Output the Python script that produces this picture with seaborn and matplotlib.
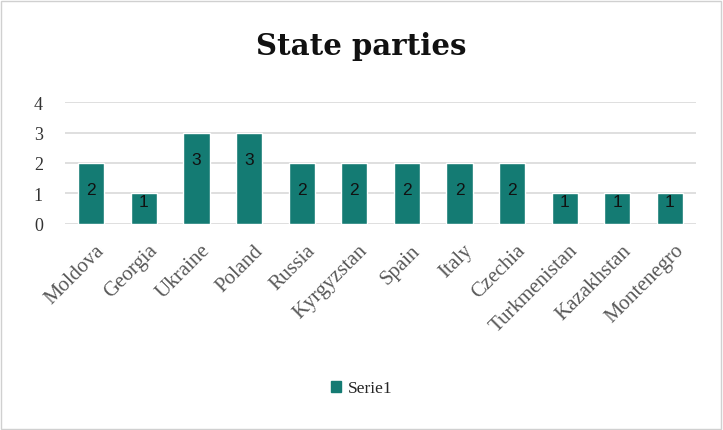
import matplotlib
matplotlib.use("Agg")
import matplotlib.pyplot as plt
import matplotlib.transforms as mtransforms
import seaborn as sns
import pandas as pd
from matplotlib.patches import Rectangle

countries = ["Moldova", "Georgia", "Ukraine", "Poland", "Russia", "Kyrgyzstan",
             "Spain", "Italy", "Czechia", "Turkmenistan", "Kazakhstan", "Montenegro"]
values = [2, 1, 3, 3, 2, 2, 2, 2, 2, 1, 1, 1]
series_name = "Serie1"
title = "State parties"

sns.set_theme(style="white")
plt.rcParams['font.family'] = ['Liberation Serif', 'DejaVu Serif']

df = pd.DataFrame({"country": countries, "value": values})
color = "#147B73"

fig = plt.figure(figsize=(7.23, 4.31), dpi=100)
ax = fig.add_axes([0.0899, 0.478, 0.873, 0.283])
sns.barplot(data=df, x="country", y="value", color=color, width=0.5,
            label=series_name, ax=ax, saturation=1)

ax.set_ylim(0, 4)
ax.set_yticks([0, 1, 2, 3, 4])
ax.yaxis.grid(True, color="#D9D9D9", linewidth=1.2)
ax.set_axisbelow(True)
for s in ax.spines.values():
    s.set_visible(False)
ax.set_xlabel("")
ax.set_ylabel("")
ax.tick_params(axis="y", labelsize=13, colors="#333333", length=0, pad=16)
ax.tick_params(axis="x", labelsize=15, colors="#595959", length=0, pad=12)
offset = mtransforms.ScaledTranslation(4 / 100, 0, fig.dpi_scale_trans)
for lbl in ax.get_xticklabels():
    lbl.set_rotation(45)
    lbl.set_ha("right")
    lbl.set_rotation_mode("anchor")
    lbl.set_transform(lbl.get_transform() + offset)

for i, v in enumerate(values):
    ypos = v - 0.88 if v > 1 else v - 0.25
    ax.text(i, ypos, str(v), ha="center", va="center", fontsize=12.5,
            family=["Liberation Sans", "DejaVu Sans"], color="#111111")

fig.text(0.5, 0.893, title, ha="center", va="center", fontsize=21,
         fontweight="bold", color="#111111", family=["DejaVu Serif"])

if ax.legend_:
    ax.legend_.remove()
handles = [Rectangle((0, 0), 1, 1, color=color)]
fig.legend(handles, [series_name], loc="center", bbox_to_anchor=(0.5, 0.097),
           frameon=False, fontsize=12.5, handlelength=0.6, handleheight=0.6,
           handletextpad=0.4)

fig.patches.append(Rectangle((0.002, 0.003), 0.995, 0.993, transform=fig.transFigure,
                             fill=False, edgecolor="#D0D0D0", linewidth=1))
fig.savefig("out.png", dpi=100)
